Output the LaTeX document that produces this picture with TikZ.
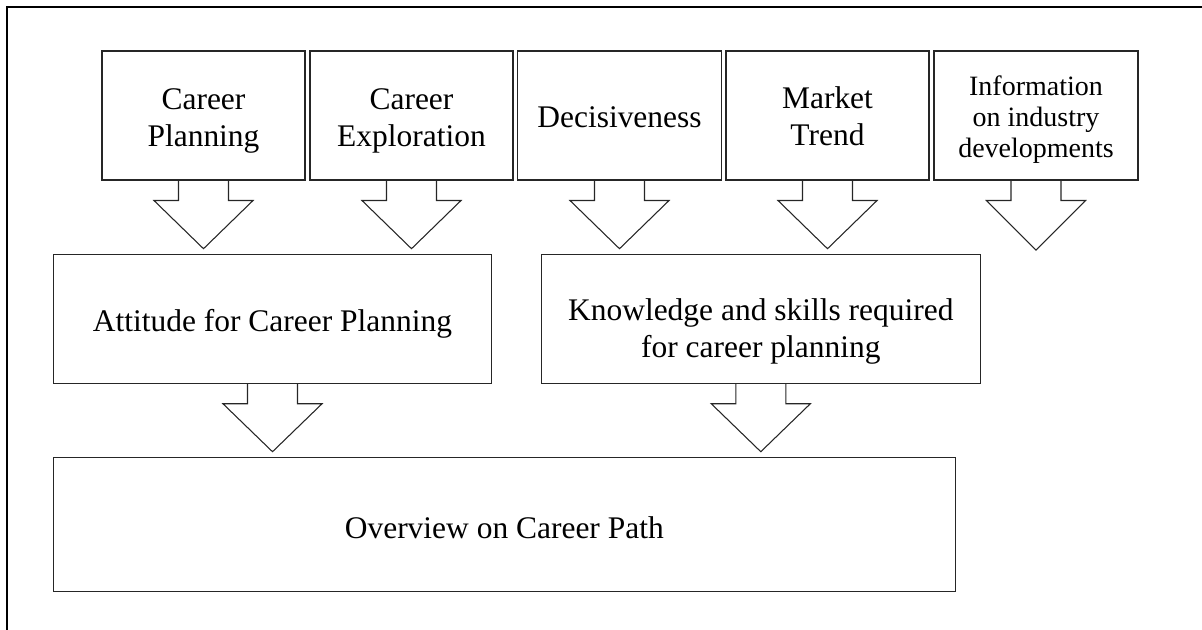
\documentclass[tikz,border=0pt]{standalone}
\usepackage{fontspec}
\setmainfont{Liberation Serif}
\usetikzlibrary{calc}
\newcommand\pxu{0.75pt}
\tikzset{
  box/.style={draw=black!85, line width=0.8pt, rectangle, inner sep=0pt,
    minimum height=129*\pxu},
  txt/.style={inner sep=0pt, align=center, font=\fontsize{23.6}{27.75}\selectfont},
  smalltxt/.style={inner sep=0pt, align=center, font=\fontsize{21}{23.25}\selectfont},
  barrow/.style={draw=black!85, line width=0.8pt, line join=miter},
  frame/.style={draw=black, line width=1.5pt},
}
\newcommand\blockarrow[2]{%
  \draw[barrow] ($(#1.south)+(-25,0)$) -- ++(0,20) -- ++(-24.5,0) -- (#2)
    -- ($(#1.south)+(49.5,20)$) -- ++(-24.5,0) -- ($(#1.south)+(25,0)$);}
\begin{document}
\begin{tikzpicture}[x=0.75pt, y=-0.75pt]
\useasboundingbox (0,0) rectangle (1202,630);
% outer frame (partly outside the picture)
\coordinate (f0) at (7,7);
\coordinate (f1) at (7,632);
\coordinate (f2) at (1204,7);
\draw[frame] (f1) -- (f0) -- (f2);
% top boxes
\node[box, minimum width=203*\pxu,
  label={[txt, yshift=-5*\pxu]center:{Career\\Planning}}] (b1) at (203.5,115.5) {};
\node[box, minimum width=203*\pxu,
  label={[txt, yshift=-5*\pxu]center:{Career\\Exploration}}] (b2) at (411.5,115.5) {};
\node[box, minimum width=204*\pxu,
  label={[txt, yshift=-2*\pxu]center:{Decisiveness}}] (b3) at (619.5,115.5) {};
\node[box, minimum width=203*\pxu,
  label={[txt, yshift=-1*\pxu]center:{Market\\Trend}}] (b4) at (827.5,115.5) {};
\node[box, minimum width=204*\pxu,
  label={[smalltxt, yshift=-4*\pxu]center:{Information\\on industry\\developments}}] (b5) at (1036,115.5) {};
% middle boxes
\node[box, minimum width=438.5*\pxu,
  label={[txt, yshift=-5*\pxu]center:{Attitude for Career Planning}}] (att) at (272.5,318.75) {};
\node[box, minimum width=438.5*\pxu,
  label={[txt, yshift=-13*\pxu]center:{Knowledge and skills required\\for career planning}}] (know) at (760.8,318.75) {};
% bottom box
\node[box, minimum width=902*\pxu, minimum height=133.5*\pxu,
  label={[txt, yshift=-3*\pxu]center:{Overview on Career Path}}] (ov) at (504.3,524.5) {};
% arrow tips
\coordinate (t1) at ($(b1.south |- att.north)+(0,-5)$);
\coordinate (t2) at ($(b2.south |- att.north)+(0,-5)$);
\coordinate (t3) at ($(b3.south |- know.north)+(0,-5)$);
\coordinate (t4) at ($(b4.south |- know.north)+(0,-5)$);
\coordinate (t5) at ($(b5.south)+(0,69.5)$);
\coordinate (ta) at ($(att.south |- ov.north)+(0,-5.5)$);
\coordinate (tk) at ($(know.south |- ov.north)+(0,-5.5)$);
% block arrows
\blockarrow{b1}{t1}
\blockarrow{b2}{t2}
\blockarrow{b3}{t3}
\blockarrow{b4}{t4}
\blockarrow{b5}{t5}
\blockarrow{att}{ta}
\blockarrow{know}{tk}
\end{tikzpicture}
\end{document}
